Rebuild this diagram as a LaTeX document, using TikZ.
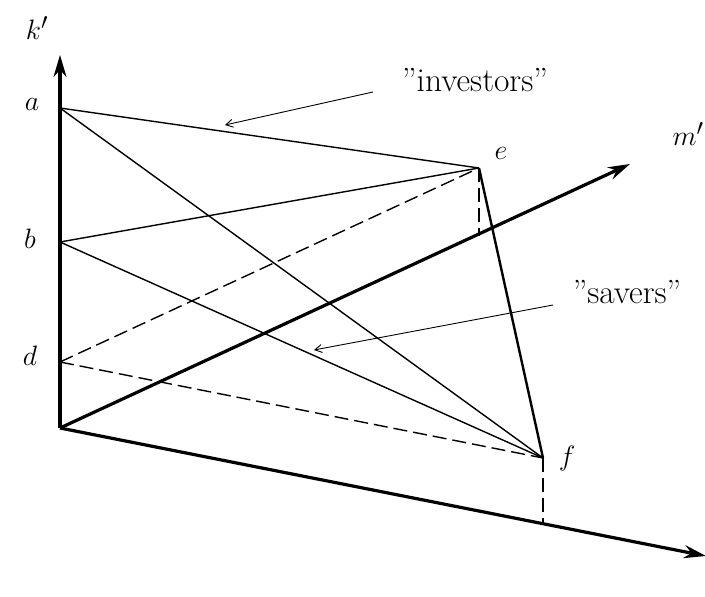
\documentclass[tikz,border=0pt]{standalone}
\usepackage{fontspec}
\usetikzlibrary{arrows.meta,calc}
\newcommand{\biglbl}[1]{\scalebox{1.125}{\Huge$#1$}}
\begin{document}
\begin{tikzpicture}[x=1pt,y=-1pt,
  axis/.style={line width=3.2pt,-{Stealth[length=22pt,width=13pt]}},
  thin/.style={line width=1.4pt},
  dsh/.style={line width=1.4pt,dash pattern=on 14pt off 6pt},
  lbl/.style={inner sep=0pt},
  txt/.style={font=\fontsize{33.5}{40}\selectfont\addfontfeatures{Ligatures=TeXOff}},
  pointer/.style={line width=0.9pt,-{Straight Barb[length=7pt,width=8pt]}}]
\useasboundingbox (0,0) rectangle (705,597);
\coordinate (O) at (60,428);
\coordinate (K) at (60,55);
\coordinate (M) at (630,164);
\coordinate (C) at (706,556);
\coordinate (a) at (60,108);
\coordinate (b) at (60,242);
\coordinate (d) at (60,362);
\coordinate (e) at (479,168);
\coordinate (f) at (543,458);
\coordinate (ef) at (479,236);
\coordinate (ff) at (543,525);
% solid lines
\draw[thin] (a) -- (e);
\draw[thin] (a) -- (f);
\draw[thin] (b) -- (e);
\draw[thin] (b) -- (f);
\draw[line width=2.4pt] (e) -- (f);
% dashed
\draw[dsh] (d) -- (e);
\draw[dsh] (d) -- (f);
\draw[dsh] (e) -- (ef);
\draw[dsh] (f) -- (ff);
% axes
\draw[axis] (O) -- (K);
\draw[axis] (O) -- (M);
\draw[axis] (O) -- (C);
% labels
\node[lbl] (lk) at (37,28) {\biglbl{k'}};
\node[lbl] (la) at (32,104) {\biglbl{a}};
\node[lbl] (lb) at (30,239) {\biglbl{b}};
\node[lbl] (ld) at (30,356) {\biglbl{d}};
\node[lbl] (le) at (501,153) {\biglbl{e}};
\node[lbl] (lf) at (567,458) {\biglbl{f}};
\node[lbl] (lm) at (688,134) {\biglbl{m'}};
\node[lbl] (lc) at (712,582) {\biglbl{c}};
\node[txt] (inv) at (475,80) {"investors"};
\node[txt] (sav) at (627,292) {"savers"};
\coordinate (invs) at (373,92);
\coordinate (invt) at (225,125);
\coordinate (savs) at (553,305);
\coordinate (savt) at (314,350);
\draw[pointer] (invs) -- (invt);
\draw[pointer] (savs) -- (savt);
\end{tikzpicture}
\end{document}
